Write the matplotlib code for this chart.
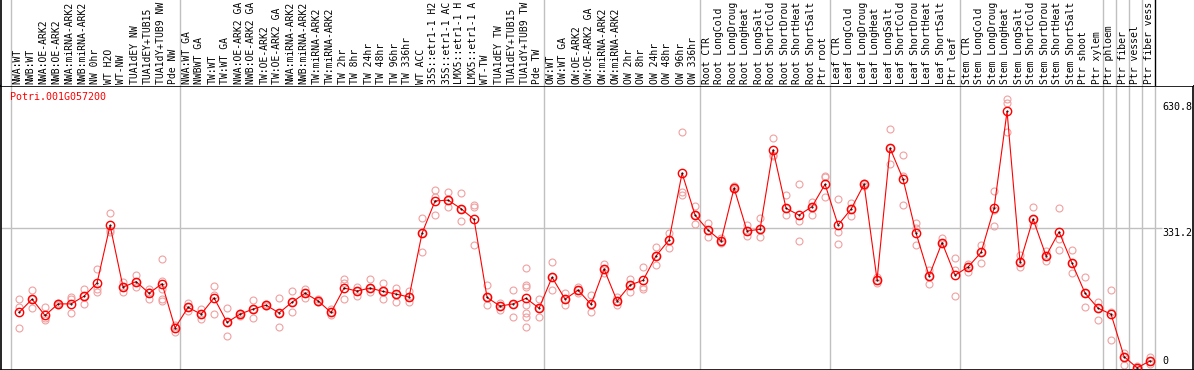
import numpy as np
import matplotlib
matplotlib.use('Agg')
import matplotlib.pyplot as plt

gene = 'Potri.001G057200'

labels = ['NWA:WT', 'NWB:WT', 'NWA:OE-ARK2', 'NWB:OE-ARK2', 'NWA:miRNA-ARK2', 'NWB:miRNA-ARK2',
          'NW 0hr', 'WT H2O', 'WT-NW', 'TUA1dEY NW', 'TUA1dEY+TUB15', 'TUA1dY+TUB9 NW', 'Pde NW',
          'NWA:WT GA', 'NWBWT GA', 'TW:WT', 'TW:WT GA', 'NWA:OE-ARK2 GA', 'NWB:OE-ARK2 GA',
          'TW:OE-ARK2', 'TW:OE-ARK2 GA', 'NWA:miRNA-ARK2', 'NWB:miRNA-ARK2', 'TW:miRNA-ARK2',
          'TW:miRNA-ARK2', 'TW 2hr', 'TW 8hr', 'TW 24hr', 'TW 48hr', 'TW 96hr', 'TW 336hr',
          'WT ACC', '35S::etr1-1 H2O', '35S::etr1-1 ACC', 'LMX5::etr1-1 H2O', 'LMX5::etr1-1 ACC',
          'WT-TW', 'TUA1dEY TW', 'TUA1dEY+TUB15', 'TUA1dY+TUB9 TW', 'Pde TW',
          'OW:WT', 'OW:WT GA', 'OW:OE-ARK2', 'OW:OE-ARK2 GA', 'OW:miRNA-ARK2', 'OW:miRNA-ARK2',
          'OW 2hr', 'OW 8hr', 'OW 24hr', 'OW 48hr', 'OW 96hr', 'OW 336hr',
          'Root CTR', 'Root LongCold', 'Root LongDrought', 'Root LongHeat', 'Root LongSalt',
          'Root ShortCold', 'Root ShortDrought', 'Root ShortHeat', 'Root ShortSalt', 'Ptr root',
          'Leaf CTR', 'Leaf LongCold', 'Leaf LongDrought', 'Leaf LongHeat', 'Leaf LongSalt',
          'Leaf ShortCold', 'Leaf ShortDrought', 'Leaf ShortHeat', 'Leaf ShortSalt', 'Ptr leaf',
          'Stem CTR', 'Stem LongCold', 'Stem LongDrought', 'Stem LongHeat', 'Stem LongSalt',
          'Stem ShortCold', 'Stem ShortDrought', 'Stem ShortHeat', 'Stem ShortSalt',
          'Ptr shoot', 'Ptr xylem', 'Ptr phloem', 'Ptr fiber', 'Ptr vessel', 'Ptr fiber vessel']

# group boundaries (column index where a new group starts)
group_starts = [0, 13, 41, 53, 63, 73, 84, 85, 86, 87, 88]

means = [133, 164, 126, 153, 153, 171, 202, 336, 192, 205, 178, 200, 97,
         145, 129, 167, 110, 129, 141, 150, 132, 157, 178, 160, 133, 190, 183, 190, 182, 176,
         169, 318, 393, 395, 375, 350, 168, 148, 153, 166, 143,
         215, 164, 185, 152, 234, 160, 197, 208, 265, 302, 458, 360,
         325, 300, 423, 323, 327, 512, 376, 360, 380, 432,
         337, 374, 432, 209, 516, 444, 318, 218, 296, 220,
         239, 273, 376, 602, 250, 351, 265, 321, 248, 178, 143,
         129, 30, 4, 20]

replicates = [[164, 145, 97], [185, 143, 164], [146, 119, 115], [155, 151, 153],
              [168, 164, 132], [188, 153, 171], [234, 187, 180], [364, 325, 321],
              [203, 180, 192], [220, 193, 205], [188, 164, 180], [258, 207, 187, 164, 160],
              [104, 88, 99],
              [156, 137, 145], [141, 118, 129], [194, 174, 129], [143, 78, 110],
              [132, 125, 129], [162, 119, 141], [152, 148, 150], [166, 99, 132],
              [183, 134, 157], [187, 167, 178], [164, 157, 160], [142, 127, 133],
              [210, 202, 164], [192, 171, 183], [211, 181, 190], [202, 164, 182],
              [191, 158, 176], [182, 157, 169], [353, 273, 318], [419, 402, 360],
              [413, 380, 395], [411, 346, 375], [384, 380, 290], [197, 150, 168],
              [156, 139, 148], [185, 123, 153], [237, 197, 193, 150, 132, 123, 98],
              [164, 122, 143],
              [250, 185, 215], [179, 150, 164], [193, 179, 185], [173, 133, 152],
              [246, 226, 234], [170, 150, 160], [211, 181, 197], [238, 193, 187],
              [286, 244, 265], [318, 283, 302], [555, 415, 407], [381, 339, 360],
              [342, 310, 325], [306, 300, 294], [428, 420, 423], [337, 311, 323],
              [353, 310, 327], [541, 500, 497], [406, 360, 376], [432, 347, 300],
              [391, 360, 380], [451, 448, 402],
              [397, 321, 293], [388, 359, 374], [434, 428, 432], [216, 202, 209],
              [560, 479, 516], [500, 451, 383], [341, 329, 290], [232, 199, 218],
              [306, 294, 296], [259, 232, 171],
              [246, 228, 239], [290, 248, 273], [416, 372, 335], [630.8, 622, 555],
              [267, 240, 250], [378, 337, 351], [277, 254, 265], [377, 304, 279],
              [279, 224, 248], [215, 145, 178], [157, 115, 143],
              [185, 135, 69], [39, 11, 30], [8, 4, 2], [28, 13, 20]]

W, H = 1194, 370
n = len(labels)
col_px = 13.0
x0_px = 11.0
xlim = ((1 - x0_px) / col_px, (W - 1 - x0_px) / col_px)
max_chars = 14  # header only has room for this many characters

all_vals = [v for r in replicates for v in r]
vmax = max(all_vals)
ytop = vmax * 1.05
ymid = ytop / 2

fig = plt.figure(figsize=(W / 100, H / 100), dpi=100)
head_h = 85.5
ax = fig.add_axes([1 / W, 0.5 / H, (W - 2) / W, (H - 0.5 - head_h) / H])
hx = fig.add_axes([1 / W, (H - head_h) / H, (W - 2) / W, head_h / H])

gray = '#c0c0c0'
mono = 'DejaVu Sans Mono'

# header
hx.set_xlim(*xlim)
hx.set_ylim(0, head_h)
hx.set_xticks([])
hx.set_yticks([])
for s in ['top', 'right', 'bottom']:
    hx.spines[s].set_visible(False)
hx.spines['left'].set_linewidth(1.2)
for g in group_starts[:-1]:
    hx.axvline(g, color=gray, lw=1.0)
hx.axvline(group_starts[-1], color='black', lw=1.0)
for i, lab in enumerate(labels):
    hx.text(i + 0.5, 1.6, lab[:max_chars], rotation=90, ha='center', va='bottom',
            fontsize=7.0, family=mono, color='black')

# plot area
x = np.arange(n) + 0.62
ax.set_xlim(*xlim)
ax.set_ylim(0, ytop)
ax.set_xticks([])
ax.set_yticks([])
for s in ax.spines.values():
    s.set_linewidth(1.2)
for g in group_starts:
    ax.axvline(g, color=gray, lw=1.0, zorder=1)
ax.hlines(ymid, xlim[0], 88.5, color=gray, lw=1.0, zorder=1)

for i, reps in enumerate(replicates):
    ax.plot([x[i]] * len(reps), reps, 'o', mfc='none', mec='#f0a0a0',
            ms=5.0, mew=0.8, zorder=2)
ax.plot(x, means, '-', color='red', lw=0.8, zorder=3)
ax.plot(x, means, 'o', mfc='none', mec='red', ms=6.0, mew=1.0, zorder=4)
ax.plot(x, means, '.', color='black', ms=1.0, zorder=5)

ax.text(9 / (W - 2), 1 - 6.5 / (H - head_h), gene, transform=ax.transAxes,
        ha='left', va='top', fontsize=7.2, family=mono, color='red')

xr = (1162 - x0_px) / col_px
ax.annotate('%.1f' % vmax, (xr, vmax), xytext=(0, -2), textcoords='offset points',
            ha='left', va='top', fontsize=7.2, family=mono)
ax.annotate('%.1f' % ymid, (xr, ymid), xytext=(0, -0.5), textcoords='offset points',
            ha='left', va='top', fontsize=7.2, family=mono)
ax.annotate('0', (xr, 0), xytext=(0, 2.5), textcoords='offset points',
            ha='left', va='bottom', fontsize=7.2, family=mono)

fig.savefig('out.png', dpi=100)
